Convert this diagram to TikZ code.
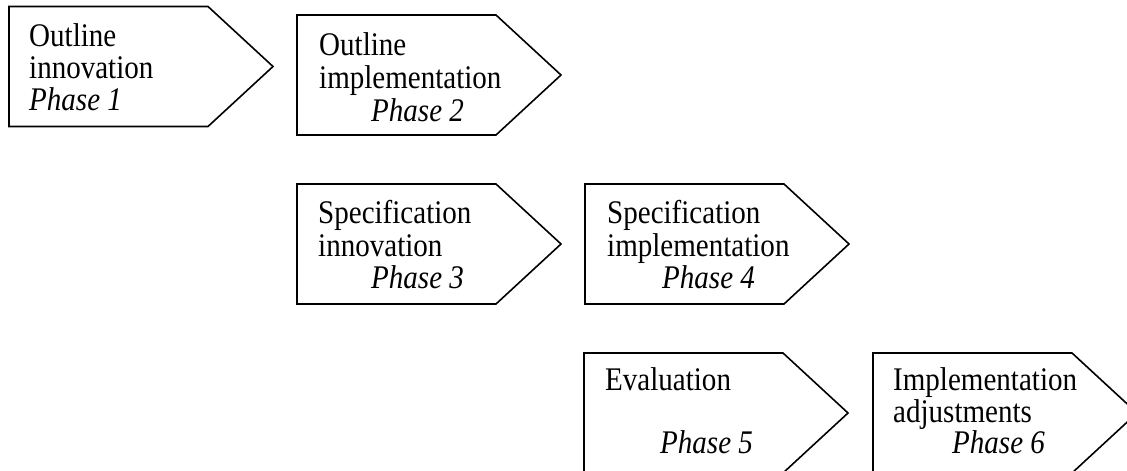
\documentclass[tikz,border=0pt]{standalone}
\usepackage{fontspec}
\setmainfont{Liberation Serif}[FakeStretch=0.88]
% pentagon-shaped phase arrow: #1 = left x, #2 = top y
\newcommand\phasearrow[2]{%
  \draw[phasebox] (#1,#2) -- ({#1+199},#2) -- ({#1+264},{#2+60})
    -- ({#1+199},{#2+120}) -- (#1,{#2+120}) -- cycle;}
\begin{document}
\begin{tikzpicture}[x=1pt,y=-1pt,
  phasebox/.style={draw=black, line width=1.6pt, line join=miter},
  lbl/.style={anchor=base west, inner sep=0pt, font=\fontsize{33}{36}\selectfont},
  ph/.style={anchor=base west, inner sep=0pt, font=\fontsize{33}{36}\selectfont\itshape}]
\useasboundingbox (0,0) rectangle (1127,471);
\clip (0,0) rectangle (1127,471);

% arrows
\phasearrow{9}{6.5}
\phasearrow{297}{15}
\phasearrow{297}{184}
\phasearrow{585}{184}
\phasearrow{584}{353}
\phasearrow{873}{353}

% Phase 1
\node[lbl] (t1a) at (29,46) {Outline};
\node[lbl] (t1b) at (29,78) {innovation};
\node[ph]  (t1c) at (29,110) {Phase 1};

% Phase 2
\node[lbl] (t2a) at (319,55) {Outline};
\node[lbl] (t2b) at (319,88) {implementation};
\node[ph]  (t2c) at (371,121) {Phase 2};

% Phase 3
\node[lbl] (t3a) at (318,223) {Specification};
\node[lbl] (t3b) at (318,256) {innovation};
\node[ph]  (t3c) at (371,288) {Phase 3};

% Phase 4
\node[lbl] (t4a) at (607,223) {Specification};
\node[lbl] (t4b) at (607,256) {implementation};
\node[ph]  (t4c) at (662,288) {Phase 4};

% Phase 5
\node[lbl] (t5a) at (605,390) {Evaluation};
\node[ph]  (t5c) at (660,453) {Phase 5};

% Phase 6
\node[lbl] (t6a) at (893,390) {Implementation};
\node[lbl] (t6b) at (893,422) {adjustments};
\node[ph]  (t6c) at (952,453) {Phase 6};
\end{tikzpicture}
\end{document}
